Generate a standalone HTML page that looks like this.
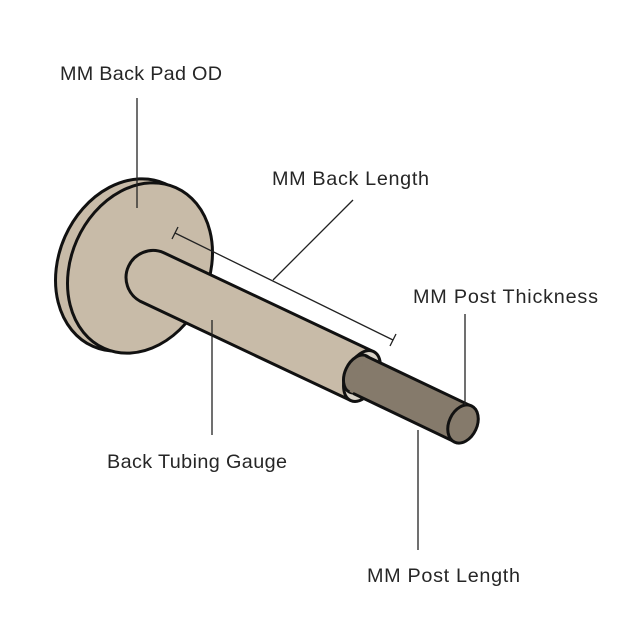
<!DOCTYPE html>
<html><head><meta charset="utf-8"><style>
html,body{margin:0;padding:0;background:#fff;}
svg{display:block}
text{font-family:"Liberation Sans",sans-serif;font-size:19.8px;fill:#262626;}
</style></head><body>
<svg width="640" height="640" viewBox="0 0 640 640" xmlns="http://www.w3.org/2000/svg">
<rect width="640" height="640" fill="#fff"/>
<ellipse cx="129" cy="265" rx="70" ry="89" transform="rotate(24 129 265)" fill="#c8bba8" stroke="#111" stroke-width="3"/>
<ellipse cx="140" cy="268" rx="69" ry="88" transform="rotate(24 140 268)" fill="#c8bba8" stroke="#111" stroke-width="3"/>
<path d="M163.5,252.6 L373.5,351.6 L350.5,400.4 L140.5,301.4 A27,27 0 0 1 163.5,252.6 Z" fill="#c8bba8" stroke="#111" stroke-width="3" stroke-linejoin="round"/>
<ellipse cx="362" cy="376" rx="16" ry="27" transform="rotate(25 362 376)" fill="#d9d3c8" stroke="#111" stroke-width="3"/>
<ellipse cx="358" cy="374" rx="13" ry="20" transform="rotate(25 358 374)" fill="#857a6b" stroke="#111" stroke-width="3"/>
<path d="M366.5,356.3 L471.5,406.2 L454.5,441.8 L349.5,391.7 Z" fill="#857a6b"/>
<g stroke="#111" stroke-width="3" stroke-linecap="round">
<line x1="366.5" y1="356.3" x2="471.5" y2="406.2"/>
<line x1="354" y1="393.8" x2="454.5" y2="441.8"/>
</g>
<ellipse cx="463" cy="424" rx="14" ry="20" transform="rotate(25 463 424)" fill="#857a6b" stroke="#111" stroke-width="3"/>
<g stroke="#222" stroke-width="1.3" fill="none">
<line x1="175" y1="233" x2="393" y2="340"/>
<line x1="172" y1="239" x2="178" y2="227"/>
<line x1="390" y1="346" x2="396" y2="334"/>
<line x1="353" y1="200" x2="273" y2="280"/>
<line x1="137" y1="98" x2="137" y2="208"/>
<line x1="465" y1="314" x2="465" y2="405"/>
<line x1="212" y1="320" x2="212" y2="435"/>
<line x1="418" y1="430" x2="418" y2="550"/>
</g>
<text x="60" y="80" textLength="162">MM Back Pad OD</text>
<text x="272" y="185" textLength="157">MM Back Length</text>
<text x="413" y="303" textLength="185">MM Post Thickness</text>
<text x="107" y="468" textLength="180">Back Tubing Gauge</text>
<text x="367" y="582" textLength="153">MM Post Length</text>
</svg>
</body></html>
